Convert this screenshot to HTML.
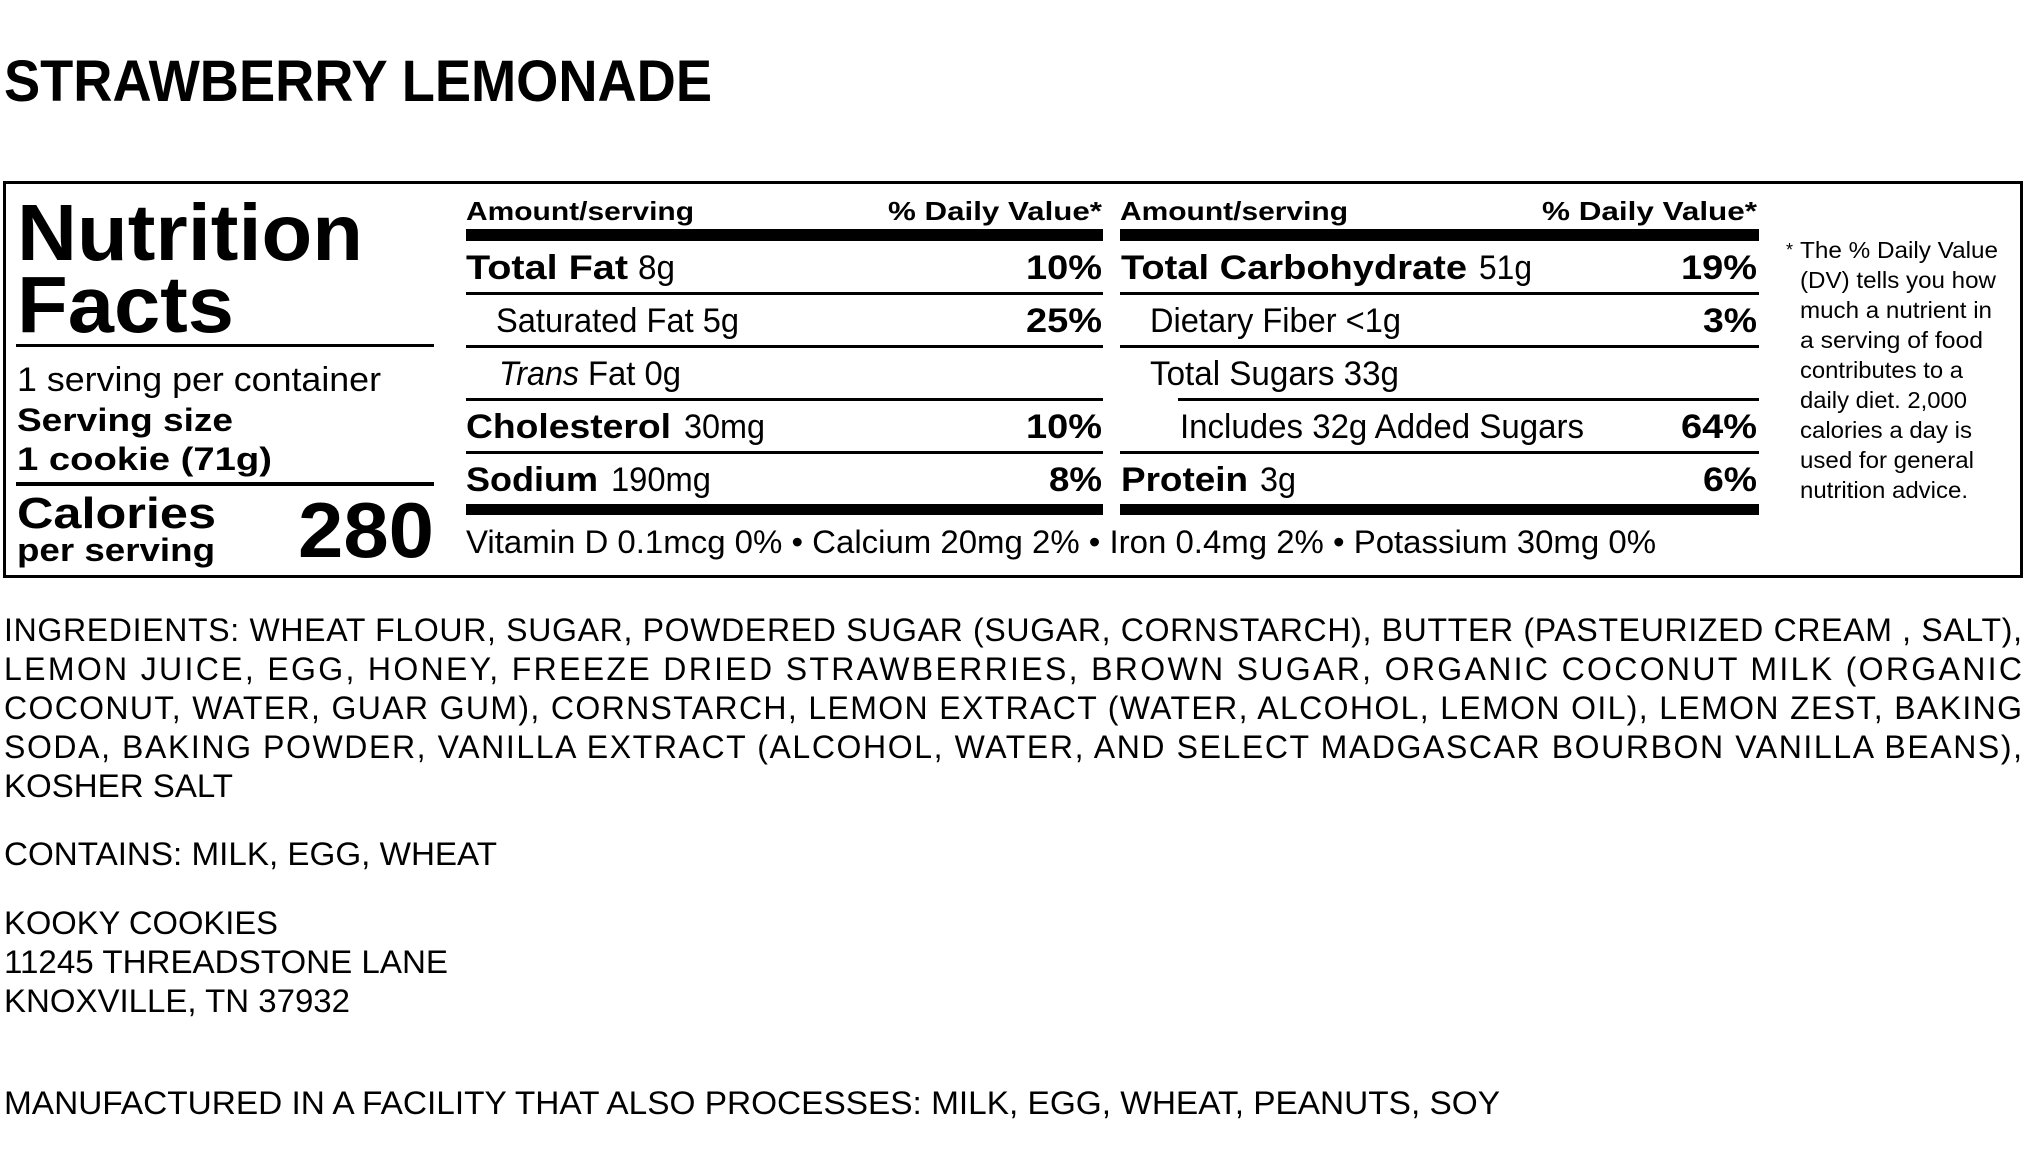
<!DOCTYPE html>
<html><head><meta charset="utf-8"><style>
html,body{margin:0;padding:0;background:#fff;}
svg{display:block;}
text{font-family:"Liberation Sans",Arial,sans-serif;fill:#000;}
.b{font-weight:bold;}
</style></head><body>
<svg width="2030" height="1175" viewBox="0 0 2030 1175" xmlns="http://www.w3.org/2000/svg">
<text class="b" x="4" y="101" font-size="58" textLength="708" lengthAdjust="spacingAndGlyphs">STRAWBERRY LEMONADE</text>
<rect x="4.5" y="182.5" width="2017" height="394" fill="none" stroke="#000" stroke-width="3"/>
<!-- left block -->
<text class="b" x="17" y="260" font-size="80" textLength="346" lengthAdjust="spacingAndGlyphs">Nutrition</text>
<text class="b" x="17" y="332" font-size="80" textLength="217" lengthAdjust="spacingAndGlyphs">Facts</text>
<rect x="16" y="344" width="418" height="3"/>
<text x="17" y="391" font-size="34" textLength="364" lengthAdjust="spacingAndGlyphs">1 serving per container</text>
<text class="b" x="17" y="431" font-size="32" textLength="216" lengthAdjust="spacingAndGlyphs">Serving size</text>
<text class="b" x="17" y="470" font-size="32" textLength="255" lengthAdjust="spacingAndGlyphs">1 cookie (71g)</text>
<rect x="16" y="482" width="418" height="4"/>
<text class="b" x="17" y="528" font-size="44" textLength="199" lengthAdjust="spacingAndGlyphs">Calories</text>
<text class="b" x="17" y="561" font-size="32" textLength="198" lengthAdjust="spacingAndGlyphs">per serving</text>
<text class="b" x="298" y="557" font-size="78" textLength="136" lengthAdjust="spacingAndGlyphs">280</text>
<!-- column 1 -->
<text class="b" x="466" y="220" font-size="26" textLength="228" lengthAdjust="spacingAndGlyphs">Amount/serving</text>
<text class="b" x="888" y="220" font-size="26" textLength="214" lengthAdjust="spacingAndGlyphs">% Daily Value*</text>
<rect x="466" y="229" width="637" height="12"/>
<text class="b" x="466" y="279" font-size="34" textLength="162" lengthAdjust="spacingAndGlyphs">Total Fat</text>
<text x="638" y="279" font-size="34" textLength="37" lengthAdjust="spacingAndGlyphs">8g</text>
<text class="b" x="1026" y="279" font-size="34" textLength="76" lengthAdjust="spacingAndGlyphs">10%</text>
<rect x="466" y="292" width="637" height="3"/>
<text x="496" y="332" font-size="34" textLength="243" lengthAdjust="spacingAndGlyphs">Saturated Fat 5g</text>
<text class="b" x="1026" y="332" font-size="34" textLength="76" lengthAdjust="spacingAndGlyphs">25%</text>
<rect x="466" y="345" width="637" height="3"/>
<text x="499" y="385" font-size="34" font-style="italic" textLength="80" lengthAdjust="spacingAndGlyphs">Trans</text>
<text x="588" y="385" font-size="34" textLength="93" lengthAdjust="spacingAndGlyphs">Fat 0g</text>
<rect x="466" y="398" width="637" height="3"/>
<text class="b" x="466" y="438" font-size="34" textLength="205" lengthAdjust="spacingAndGlyphs">Cholesterol</text>
<text x="684" y="438" font-size="34" textLength="81" lengthAdjust="spacingAndGlyphs">30mg</text>
<text class="b" x="1026" y="438" font-size="34" textLength="76" lengthAdjust="spacingAndGlyphs">10%</text>
<rect x="466" y="451" width="637" height="3"/>
<text class="b" x="466" y="491" font-size="34" textLength="132" lengthAdjust="spacingAndGlyphs">Sodium</text>
<text x="611" y="491" font-size="34" textLength="100" lengthAdjust="spacingAndGlyphs">190mg</text>
<text class="b" x="1049" y="491" font-size="34" textLength="53" lengthAdjust="spacingAndGlyphs">8%</text>
<rect x="466" y="504" width="637" height="11"/>
<!-- column 2 -->
<text class="b" x="1120" y="220" font-size="26" textLength="228" lengthAdjust="spacingAndGlyphs">Amount/serving</text>
<text class="b" x="1542" y="220" font-size="26" textLength="215" lengthAdjust="spacingAndGlyphs">% Daily Value*</text>
<rect x="1120" y="229" width="639" height="12"/>
<text class="b" x="1121" y="279" font-size="34" textLength="346" lengthAdjust="spacingAndGlyphs">Total Carbohydrate</text>
<text x="1479" y="279" font-size="34" textLength="53" lengthAdjust="spacingAndGlyphs">51g</text>
<text class="b" x="1681" y="279" font-size="34" textLength="76" lengthAdjust="spacingAndGlyphs">19%</text>
<rect x="1120" y="292" width="639" height="3"/>
<text x="1150" y="332" font-size="34" textLength="251" lengthAdjust="spacingAndGlyphs">Dietary Fiber &lt;1g</text>
<text class="b" x="1703" y="332" font-size="34" textLength="54" lengthAdjust="spacingAndGlyphs">3%</text>
<rect x="1120" y="345" width="639" height="3"/>
<text x="1150" y="385" font-size="34" textLength="249" lengthAdjust="spacingAndGlyphs">Total Sugars 33g</text>
<rect x="1178" y="398" width="581" height="3"/>
<text x="1180" y="438" font-size="34" textLength="404" lengthAdjust="spacingAndGlyphs">Includes 32g Added Sugars</text>
<text class="b" x="1681" y="438" font-size="34" textLength="76" lengthAdjust="spacingAndGlyphs">64%</text>
<rect x="1120" y="451" width="639" height="3"/>
<text class="b" x="1121" y="491" font-size="34" textLength="127" lengthAdjust="spacingAndGlyphs">Protein</text>
<text x="1260" y="491" font-size="34" textLength="36" lengthAdjust="spacingAndGlyphs">3g</text>
<text class="b" x="1703" y="491" font-size="34" textLength="54" lengthAdjust="spacingAndGlyphs">6%</text>
<rect x="1120" y="504" width="639" height="11"/>
<text x="466" y="553" font-size="32" textLength="1190" lengthAdjust="spacingAndGlyphs">Vitamin D 0.1mcg 0% • Calcium 20mg 2% • Iron 0.4mg 2% • Potassium 30mg 0%</text>
<!-- footnote -->
<text x="1786" y="256" font-size="18">*</text>
<g font-size="23">
<text x="1800" y="258" textLength="198" lengthAdjust="spacingAndGlyphs">The % Daily Value</text>
<text x="1800" y="288" textLength="196" lengthAdjust="spacingAndGlyphs">(DV) tells you how</text>
<text x="1800" y="318" textLength="192" lengthAdjust="spacingAndGlyphs">much a nutrient in</text>
<text x="1800" y="348" textLength="183" lengthAdjust="spacingAndGlyphs">a serving of food</text>
<text x="1800" y="378" textLength="163" lengthAdjust="spacingAndGlyphs">contributes to a</text>
<text x="1800" y="408" textLength="167" lengthAdjust="spacingAndGlyphs">daily diet. 2,000</text>
<text x="1800" y="438" textLength="172" lengthAdjust="spacingAndGlyphs">calories a day is</text>
<text x="1800" y="468" textLength="174" lengthAdjust="spacingAndGlyphs">used for general</text>
<text x="1800" y="498" textLength="168" lengthAdjust="spacingAndGlyphs">nutrition advice.</text>
</g>
<!-- ingredients -->
<g font-size="32">
<text x="4" y="641" textLength="2018" lengthAdjust="spacing">INGREDIENTS: WHEAT FLOUR, SUGAR, POWDERED SUGAR (SUGAR, CORNSTARCH), BUTTER (PASTEURIZED CREAM , SALT),</text>
<text x="4" y="680" textLength="2018" lengthAdjust="spacing">LEMON JUICE, EGG, HONEY, FREEZE DRIED STRAWBERRIES, BROWN SUGAR, ORGANIC COCONUT MILK (ORGANIC</text>
<text x="4" y="719" textLength="2018" lengthAdjust="spacing">COCONUT, WATER, GUAR GUM), CORNSTARCH, LEMON EXTRACT (WATER, ALCOHOL, LEMON OIL), LEMON ZEST, BAKING</text>
<text x="4" y="758" textLength="2018" lengthAdjust="spacing">SODA, BAKING POWDER, VANILLA EXTRACT (ALCOHOL, WATER, AND SELECT MADGASCAR BOURBON VANILLA BEANS),</text>
<text x="4" y="797" textLength="229" lengthAdjust="spacingAndGlyphs">KOSHER SALT</text>
<text x="4" y="865" textLength="493" lengthAdjust="spacingAndGlyphs">CONTAINS: MILK, EGG, WHEAT</text>
<text x="4" y="934" textLength="274" lengthAdjust="spacingAndGlyphs">KOOKY COOKIES</text>
<text x="4" y="973" textLength="444" lengthAdjust="spacingAndGlyphs">11245 THREADSTONE LANE</text>
<text x="4" y="1012" textLength="346" lengthAdjust="spacingAndGlyphs">KNOXVILLE, TN 37932</text>
<text x="4" y="1114" textLength="1496" lengthAdjust="spacingAndGlyphs">MANUFACTURED IN A FACILITY THAT ALSO PROCESSES: MILK, EGG, WHEAT, PEANUTS, SOY</text>
</g>
</svg>
</body></html>
